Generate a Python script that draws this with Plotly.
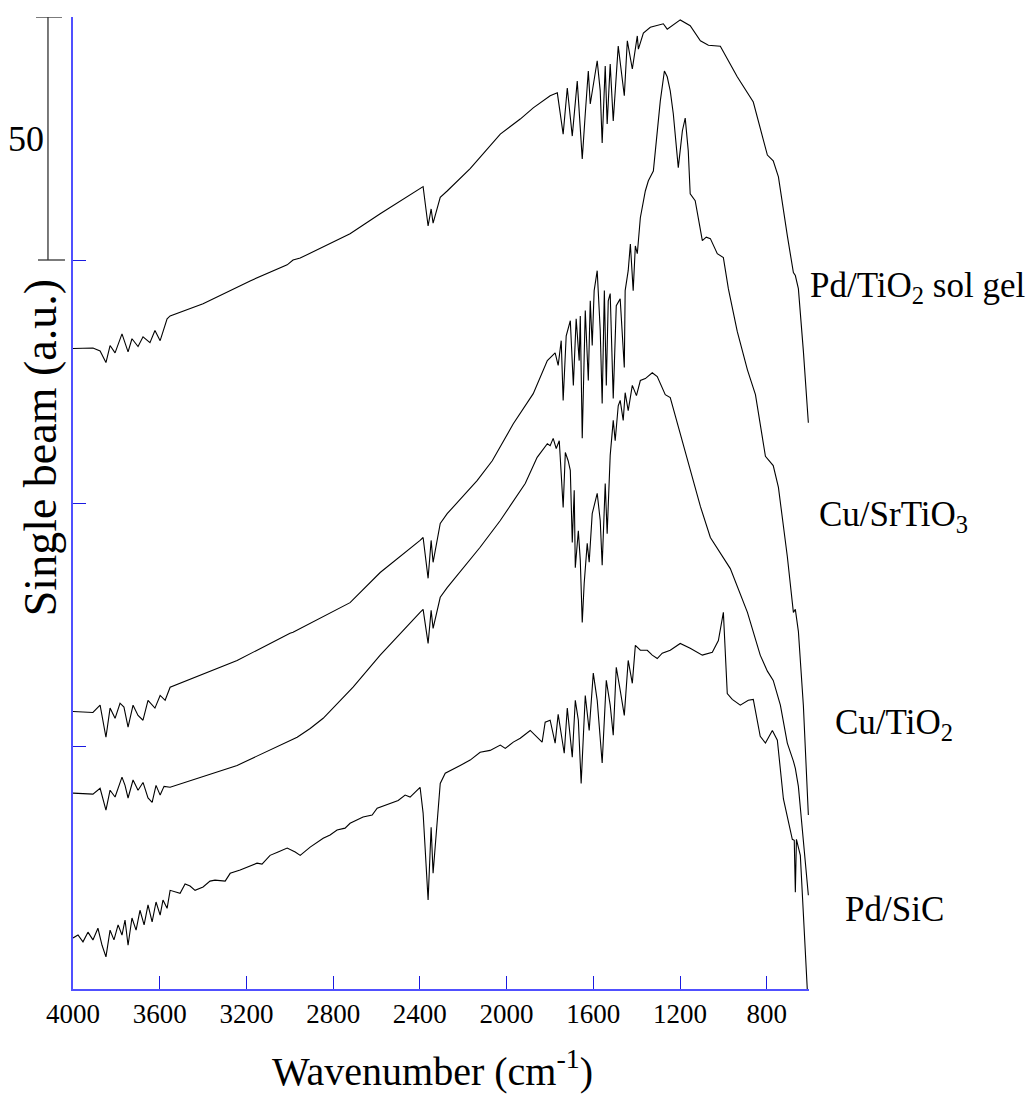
import plotly.graph_objects as go

# ---------------- data (wavenumber in cm-1, single beam in a.u.) ----------------
wn_pd_tio2 = [4000, 3908, 3875, 3848, 3829, 3806, 3774, 3746, 3728, 3700, 3677, 3645, 3622, 3598,
              3566, 3552, 3400, 3183, 3012, 2985, 2952, 2722, 2583, 2399, 2385, 2362, 2348, 2339,
              2306, 2274, 2168, 2029, 1937, 1877, 1831, 1799, 1766, 1739, 1720, 1697, 1674, 1651,
              1637, 1623, 1614, 1582, 1568, 1559, 1545, 1536, 1522, 1508, 1485, 1457, 1443, 1420,
              1397, 1392, 1369, 1337, 1277, 1259, 1199, 1153, 1106, 1069, 1014, 936, 862, 797,
              770, 746, 705, 677, 668, 654, 631, 608]
sb_pd_tio2 = [131.8, 131.9, 131.3, 128.9, 132.4, 130.9, 134.8, 131.1, 133.8, 132.2, 134.2, 133.0, 135.5, 133.4,
              137.9, 138.5, 141.0, 145.7, 149.0, 150.0, 150.4, 155.4, 159.5, 164.6, 165.1, 157.0, 160.5, 157.6,
              162.9, 164.2, 168.8, 175.9, 179.0, 181.3, 182.7, 183.8, 184.4, 175.9, 185.4, 175.5, 186.8, 170.8,
              180.1, 188.9, 182.1, 191.0, 184.8, 174.1, 189.9, 178.0, 190.3, 178.6, 194.0, 183.8, 195.1, 189.3,
              196.1, 193.4, 196.7, 197.9, 198.6, 197.5, 199.4, 198.2, 195.1, 194.2, 194.0, 187.7, 182.5, 171.6,
              170.4, 167.1, 155.0, 147.4, 146.8, 144.1, 131.3, 116.5]

wn_cu_srtio3 = [4000, 3908, 3875, 3848, 3829, 3806, 3783, 3765, 3746, 3723, 3700, 3677, 3654, 3622,
                3598, 3575, 3552, 3243, 2999, 2985, 2722, 2583, 2399, 2385, 2362, 2348, 2339, 2306,
                2274, 2136, 2066, 1969, 1877, 1812, 1776, 1762, 1748, 1739, 1725, 1706, 1692, 1679,
                1665, 1660, 1651, 1637, 1623, 1614, 1605, 1596, 1582, 1568, 1559, 1549, 1540, 1531,
                1522, 1508, 1494, 1476, 1457, 1453, 1439, 1429, 1416, 1406, 1397, 1383, 1360, 1346,
                1323, 1309, 1291, 1272, 1259, 1245, 1231, 1208, 1189, 1176, 1162, 1153, 1130, 1097,
                1079, 1060, 1028, 1000, 977, 936, 889, 852, 806, 770, 746, 705, 677, 668, 654, 631, 608]
sb_cu_srtio3 = [57.1, 56.9, 58.4, 51.8, 57.8, 55.7, 58.8, 58.0, 53.9, 58.4, 56.3, 55.3, 59.4, 57.8,
                60.4, 59.4, 62.1, 67.6, 73.2, 73.4, 79.5, 85.7, 92.3, 92.9, 84.5, 92.3, 87.8, 95.8,
                97.8, 104.6, 108.7, 116.3, 122.5, 129.3, 130.9, 128.3, 133.4, 121.1, 134.4, 137.5, 124.2, 137.9,
                129.3, 138.5, 113.3, 139.6, 125.2, 141.6, 132.4, 143.7, 147.8, 135.5, 120.5, 143.7, 124.2, 141.6,
                143.1, 121.5, 140.6, 142.0, 127.9, 143.7, 147.8, 153.3, 143.7, 152.9, 151.3, 158.7, 164.2, 166.3,
                168.3, 175.1, 182.7, 188.9, 187.7, 184.8, 180.1, 169.0, 176.6, 179.2, 172.5, 163.6, 162.2, 154.0,
                154.7, 154.4, 151.3, 150.5, 144.1, 135.3, 127.4, 122.3, 109.6, 107.7, 103.2, 89.0, 77.5, 78.1, 73.6, 58.4, 35.8]

wn_cu_tio2 = [4000, 3908, 3875, 3848, 3829, 3806, 3774, 3760, 3746, 3723, 3700, 3677, 3654, 3635,
              3617, 3598, 3580, 3552, 3243, 2966, 2906, 2846, 2708, 2583, 2399, 2385, 2362, 2348,
              2339, 2306, 2274, 2122, 2029, 1914, 1859, 1812, 1799, 1785, 1771, 1757, 1739, 1729,
              1716, 1706, 1697, 1688, 1683, 1669, 1660, 1651, 1642, 1628, 1619, 1605, 1582, 1568,
              1559, 1545, 1536, 1522, 1508, 1499, 1485, 1476, 1462, 1453, 1439, 1420, 1401, 1383,
              1360, 1328, 1305, 1268, 1245, 1185, 1106, 1060, 1014, 968, 889, 830, 797, 770, 737,
              705, 677, 668, 654, 631, 608]
sb_cu_tio2 = [40.3, 40.1, 41.3, 36.8, 40.9, 39.5, 43.6, 41.9, 39.3, 43.0, 40.9, 42.5, 39.3, 38.4,
              41.9, 39.9, 41.7, 41.5, 46.0, 51.8, 53.6, 55.7, 62.1, 68.7, 77.5, 78.1, 71.1, 77.9,
              74.2, 80.6, 82.6, 90.9, 96.4, 104.0, 109.4, 112.2, 111.8, 113.3, 111.2, 112.8, 99.1, 110.4,
              108.7, 106.7, 91.9, 102.6, 86.7, 94.3, 88.2, 75.4, 83.5, 91.7, 87.8, 97.8, 102.0, 96.4,
              87.2, 104.0, 93.7, 109.8, 117.0, 112.8, 120.0, 121.1, 117.0, 122.7, 119.0, 124.2, 122.1, 125.2,
              125.6, 126.8, 126.0, 122.3, 121.7, 112.0, 99.3, 92.9, 89.6, 86.5, 77.5, 68.7, 65.4, 63.5, 58.4,
              50.6, 46.9, 45.4, 41.7, 30.2, 19.3]

wn_pd_sic = [4000, 3977, 3954, 3931, 3908, 3885, 3866, 3848, 3829, 3811, 3792, 3774, 3760, 3746,
             3728, 3709, 3691, 3672, 3654, 3635, 3617, 3598, 3585, 3566, 3552, 3506, 3483, 3460,
             3437, 3400, 3368, 3345, 3298, 3275, 3229, 3206, 3151, 3128, 3091, 3054, 3012, 2975,
             2952, 2906, 2846, 2814, 2782, 2745, 2722, 2662, 2620, 2597, 2537, 2500, 2468, 2445,
             2399, 2385, 2362, 2348, 2339, 2306, 2283, 2237, 2214, 2168, 2122, 2076, 2029, 2006,
             1969, 1937, 1891, 1836, 1822, 1799, 1776, 1762, 1734, 1720, 1697, 1683, 1669, 1656,
             1637, 1619, 1600, 1582, 1559, 1540, 1522, 1508, 1494, 1476, 1457, 1439, 1420, 1406,
             1383, 1351, 1328, 1305, 1282, 1245, 1199, 1153, 1097, 1051, 1023, 1000, 982, 959,
             922, 885, 862, 830, 806, 774, 751, 723, 682, 673, 668, 663, 645, 613]
sb_pd_sic = [10.5, 11.1, 9.7, 11.7, 10.1, 12.5, 9.0, 6.6, 12.1, 10.1, 13.2, 11.1, 14.2, 9.0,
             14.6, 12.1, 16.2, 13.2, 17.3, 13.8, 17.9, 15.2, 18.3, 16.6, 20.3, 19.7, 21.6, 21.2,
             20.3, 21.0, 22.2, 22.4, 22.2, 23.8, 24.5, 24.9, 25.9, 25.7, 27.5, 28.2, 29.0, 28.2,
             27.5, 29.2, 31.0, 31.7, 32.7, 33.1, 34.1, 35.4, 35.8, 37.2, 38.2, 38.8, 39.9, 39.5,
             41.5, 36.2, 18.3, 33.3, 23.8, 42.3, 44.4, 45.4, 46.0, 47.1, 48.7, 49.1, 50.2, 49.5,
             50.8, 51.6, 53.2, 50.8, 54.9, 55.3, 50.6, 56.5, 48.5, 57.8, 47.7, 59.4, 55.3, 42.3,
             60.4, 53.2, 65.0, 59.4, 46.5, 63.5, 58.4, 52.2, 66.2, 61.5, 56.3, 67.6, 62.9, 70.7,
             69.7, 69.7, 68.7, 68.0, 69.1, 69.7, 71.1, 70.1, 68.7, 69.3, 71.7, 77.5, 60.8, 59.6,
             58.4, 59.4, 59.6, 52.0, 50.6, 53.2, 51.2, 39.1, 30.8, 30.6, 19.9, 30.8, 27.5, 0.0]

x_ticks = [4000, 3600, 3200, 2800, 2400, 2000, 1600, 1200, 800]
y_ticks = [0, 50, 100, 150, 200]
scale_bar = [150, 200]

labels = ["Pd/TiO<sub>2</sub> sol gel", "Cu/SrTiO<sub>3</sub>", "Cu/TiO<sub>2</sub>", "Pd/SiC"]
label_pos = [(0.9986, 0.722), (1.0109, 0.4866), (1.0326, 0.2726), (1.0462, 0.0813)]

series = [(wn_pd_tio2, sb_pd_tio2), (wn_cu_srtio3, sb_cu_srtio3),
          (wn_cu_tio2, sb_cu_tio2), (wn_pd_sic, sb_pd_sic)]

FONT = "Liberation Serif"
AXC = "#5050ff"
TKC = "#1a1ae0"

fig = go.Figure()
for wn, sb in series:
    fig.add_trace(go.Scatter(x=wn, y=sb, mode="lines",
                             line=dict(color="black", width=1.1), showlegend=False))

fig.update_layout(
    width=1036, height=1097,
    margin=dict(l=73, r=227, t=17, b=108),
    plot_bgcolor="white", paper_bgcolor="white",
    font=dict(family=FONT, color="black"),
)
fig.update_xaxes(range=[4000, 605], tickvals=x_ticks, ticktext=[str(t) for t in x_ticks],
                 ticks="inside", ticklen=13, tickcolor=TKC, tickwidth=1,
                 showline=True, linecolor=AXC, linewidth=1.5,
                 showgrid=False, zeroline=False, tickfont=dict(size=27, family=FONT, color="black"))
fig.update_yaxes(range=[0, 200], tickvals=y_ticks, ticks="inside", ticklen=13, tickcolor=TKC,
                 tickwidth=1, showticklabels=False, showline=True, linecolor=AXC, linewidth=1.5,
                 showgrid=False, zeroline=False)

# scale bar (50 a.u.)
bar_x = -0.034
fig.add_shape(type="line", xref="paper", yref="y", x0=bar_x, x1=bar_x,
              y0=scale_bar[0], y1=scale_bar[1], line=dict(color="#333", width=1.3))
fig.add_shape(type="line", xref="paper", yref="y", x0=-0.0503, x1=-0.0149,
              y0=scale_bar[1], y1=scale_bar[1], line=dict(color="#333", width=1.3))
fig.add_shape(type="line", xref="paper", yref="y", x0=-0.0476, x1=-0.0109,
              y0=scale_bar[0], y1=scale_bar[0], line=dict(color="#333", width=1.3))
fig.add_annotation(xref="paper", yref="y", x=-0.0639, y=sum(scale_bar) / 2,
                   text=str(scale_bar[1] - scale_bar[0]), showarrow=False,
                   font=dict(size=36, family=FONT), xanchor="center", yanchor="middle")

# axis titles
fig.add_annotation(xref="paper", yref="paper", x=-0.044, y=0.557, text="Single beam (a.u.)",
                   textangle=-90, showarrow=False, font=dict(size=46, family=FONT),
                   xanchor="center", yanchor="middle")
fig.add_annotation(xref="paper", yref="paper", x=0.488, y=-0.0813,
                   text="Wavenumber (cm<sup>-1</sup>)", showarrow=False,
                   font=dict(size=40, family=FONT), xanchor="center", yanchor="middle")

for txt, (px, py) in zip(labels, label_pos):
    fig.add_annotation(xref="paper", yref="paper", x=px, y=py, text=txt, showarrow=False,
                       font=dict(size=35, family=FONT), xanchor="left", yanchor="middle")

fig.write_html("out.html")
